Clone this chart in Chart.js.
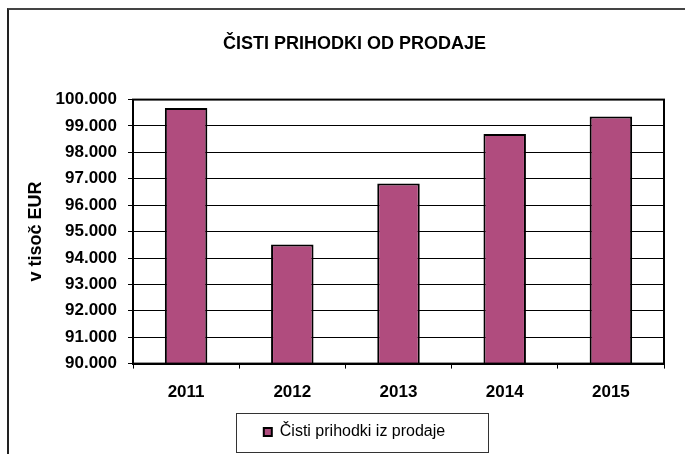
<!DOCTYPE html>
<html>
<head>
<meta charset="utf-8">
<script src="https://cdn.jsdelivr.net/npm/chart.js@4"></script>
<style>
    html, body { margin: 0; padding: 0; background: #fff; overflow: hidden; }
    #frame {
        position: absolute; left: 7px; top: 8px;
        width: 693px; height: 446px;
        border-top: 2px solid #444; border-left: 2px solid #222;
        box-sizing: border-box;
    }
    #frame canvas { position: absolute; left: 0; top: 0; }
</style>
</head>
<body>
<div id="frame"><canvas id="myChart" width="691" height="444"></canvas></div>
<script>
const years = ['2011', '2012', '2013', '2014', '2015'];
const prihodki = [99680, 94510, 96820, 98700, 99360];
const seriesName = 'Čisti prihodki iz prodaje';
const chartTitle = 'ČISTI PRIHODKI OD PRODAJE';
const axisTitle = 'v tisoč EUR';
const yMin = 90000;
const yMax = 100000;
const yStep = 1000;

const fontName = '"Liberation Sans", Arial, sans-serif';

function formatThousands(v) {
    return String(v).replace(/\B(?=(\d{3})+(?!\d))/g, '.');
}

// border round the plot and round the legend, like the excel original
const framePlugin = {
    id: 'framePlugin',
    afterDraw(chart) {
        const ctx = chart.ctx;
        const a = chart.chartArea;
        ctx.save();
        ctx.strokeStyle = '#000';
        ctx.lineWidth = 2;
        ctx.strokeRect(a.left, a.top, a.right - a.left, a.bottom - a.top);
        const hb = chart.legend.legendHitBoxes[0];
        if (hb) {
            ctx.lineWidth = 1;
            ctx.strokeStyle = '#333';
            ctx.strokeRect(Math.round(hb.left - 28) + 0.5, Math.round(hb.top + hb.height / 2 - 19.5) + 0.5,
                Math.round(hb.width + 71), 39);
        }
        ctx.restore();
    }
};

var ctx = document.getElementById('myChart').getContext('2d');
var chart = new Chart(ctx, {
    type: 'bar',
    data: {
        labels: years,
        datasets: [{
            label: seriesName,
            data: prihodki,
            backgroundColor: '#B04C7E',
            borderColor: '#000',
            borderWidth: 2,
            borderSkipped: false,
            categoryPercentage: 0.4,
            barPercentage: 1
        }]
    },
    options: {
        responsive: false,
        animation: false,
        layout: { padding: { left: 0, right: 0, top: 0, bottom: 4 } },
        plugins: {
            title: {
                display: true,
                text: chartTitle,
                color: '#000',
                font: { family: fontName, size: 18, weight: 'bold' },
                padding: { top: 23, bottom: 45 }
            },
            legend: {
                position: 'bottom',
                labels: {
                    color: '#000',
                    font: { family: fontName, size: 16 },
                    boxWidth: 8,
                    boxHeight: 8,
                    padding: 7
                }
            },
            tooltip: { enabled: false }
        },
        scales: {
            x: {
                grid: {
                    drawOnChartArea: false,
                    drawTicks: true,
                    tickLength: 5,
                    color: '#000',
                    lineWidth: 1
                },
                border: { color: '#000', width: 2 },
                ticks: {
                    color: '#000',
                    padding: 14,
                    font: { family: fontName, size: 17, weight: 'bold' }
                }
            },
            y: {
                min: yMin,
                max: yMax,
                afterFit: scale => { scale.width = 124; },
                grid: { color: '#000', lineWidth: 1, tickLength: 5 },
                border: { color: '#000', width: 2 },
                ticks: {
                    stepSize: yStep,
                    color: '#000',
                    padding: 11,
                    font: { family: fontName, size: 17, weight: 'bold' },
                    callback: v => formatThousands(v)
                },
                title: {
                    display: true,
                    text: axisTitle,
                    color: '#000',
                    font: { family: fontName, size: 18, weight: 'bold' },
                    padding: { top: 16, bottom: 0 }
                }
            },
            // empty axis on the right, only to keep the space the original has there
            yRight: {
                position: 'right',
                min: yMin,
                max: yMax,
                afterFit: scale => { scale.width = 36; },
                grid: { drawOnChartArea: false, drawTicks: false },
                border: { display: false },
                ticks: { display: false }
            }
        }
    },
    plugins: [framePlugin]
});
</script>
</body>
</html>
